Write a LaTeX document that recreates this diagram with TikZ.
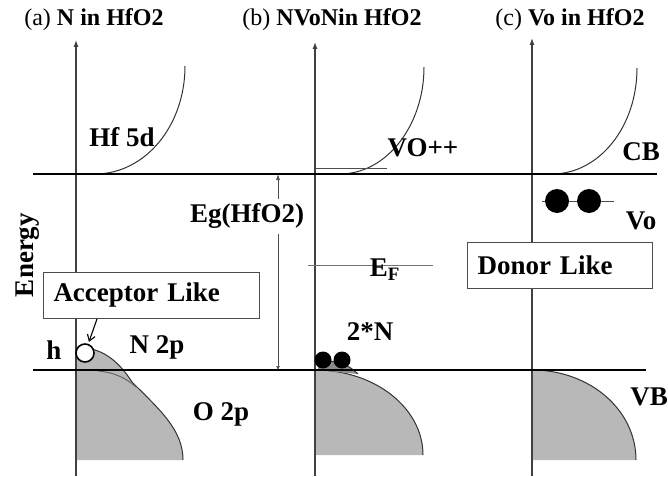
\documentclass[tikz,border=0pt]{standalone}
\usepackage{fontspec}
\setmainfont{Liberation Serif}
\usetikzlibrary{arrows.meta}
\begin{document}
\begin{tikzpicture}[x=1pt,y=-1pt,
  axisline/.style={draw=black!75, line width=1.1pt, -{Latex[length=7pt,width=5pt]}},
  bandedge/.style={draw=black, line width=2.2pt},
  dos/.style={draw=black!80, line width=1pt},
  lbl/.style={font=\fontsize{27}{29}\selectfont\bfseries, inner sep=0pt},
  ttl/.style={font=\fontsize{24}{26}\selectfont, inner sep=0pt},
  statebox/.style={draw=black!70, line width=1pt, fill=white, font=\fontsize{27}{29}\selectfont\bfseries, minimum height=46pt, inner sep=10pt, align=left, anchor=west},
  thinline/.style={draw=black!70, line width=0.7pt},
  electron/.style={circle, fill=black, inner sep=0pt}
]
\useasboundingbox (0,0) rectangle (668,476);

% titles
\node[ttl] (ta) at (94,20) {(a) \textbf{N in HfO2}};
\node[ttl] (tb) at (332,20) {(b) \textbf{NVoNin HfO2}};
\node[ttl] (tc) at (570,20) {(c) \textbf{Vo in HfO2}};

% shaded valence band densities
\fill[black!28] (76,460) -- (76,348) .. controls (100,346) and (118,360) .. (132,382)
   .. controls (160,410) and (183,430) .. (183,460) -- cycle;
\draw[dos] (76,348) .. controls (100,346) and (118,360) .. (132,382)
   .. controls (160,410) and (183,430) .. (183,460);
\draw[dos, draw=black!60] (98,371) .. controls (112,372) and (125,377) .. (136,387);

\fill[black!28] (315,455) -- (315,370) .. controls (375,370) and (423,408) .. (423,455) -- cycle;
\draw[dos] (315,370) .. controls (375,370) and (423,408) .. (423,455);
\fill[black!45] (318,370) -- (318,362) .. controls (335,359) and (348,364) .. (358,374) -- cycle;
\draw[dos] (318,362) .. controls (335,359) and (348,364) .. (358,374);

\fill[black!28] (532,460) -- (532,370) .. controls (590,370) and (636,410) .. (636,460) -- cycle;
\draw[dos] (532,370) .. controls (590,370) and (636,410) .. (636,460);

% axes
\coordinate (abot) at (76,476); \coordinate (atop) at (76,40);
\coordinate (bbot) at (315,476); \coordinate (btop) at (315,42);
\coordinate (cbot) at (532,476); \coordinate (ctop) at (532,38);
\draw[axisline] (abot) -- (atop);
\draw[axisline] (bbot) -- (btop);
\draw[axisline] (cbot) -- (ctop);

% conduction band densities
\draw[dos] (95,174) .. controls (145,174) and (185,126) .. (185,66);
\draw[dos] (340,174) .. controls (386,174) and (424,126) .. (424,67);
\draw[dos] (552,174) .. controls (599,174) and (637,127) .. (637,68);

% band edges
\coordinate (cbl) at (33,174); \coordinate (cbr) at (657,174);
\coordinate (vbl) at (33,370); \coordinate (vbr) at (646,370);
\draw[bandedge] (cbl) -- (cbr);
\draw[bandedge] (vbl) -- (vbr);

% VO++ level and Fermi level
\coordinate (vol1) at (315,168); \coordinate (vol2) at (387,168);
\draw[thinline] (vol1) -- (vol2);
\coordinate (ef1) at (308,265); \coordinate (ef2) at (433,265);
\draw[thinline, draw=black!55] (ef1) -- (ef2);

% band gap arrow
\node[lbl] (eg) at (247,216) {Eg(HfO2)};
\coordinate (egtop) at (278,174); \coordinate (egbot) at (278,370);
\draw[thinline, -{Latex[length=6pt,width=4pt]}, shorten <=4pt] (egtop |- eg.north) -- (egtop);
\draw[thinline, -{Latex[length=4pt,width=4pt]}, shorten <=5pt] (egtop |- eg.south) -- (egbot);

% boxes
\node[statebox, minimum width=216pt, text width=196pt] (acc) at (43,295.5) {Acceptor Like};
\node[statebox, minimum width=185pt, text width=165pt] (don) at (467,265) {Donor Like};

% hole
\node[circle, draw, line width=1.6pt, fill=white, minimum size=18pt, inner sep=0pt] (hole) at (85,353) {};
\coordinate (hstart) at (97,319);
\draw[line width=1.1pt, -{Straight Barb[length=6pt,width=8pt]}, shorten >=2pt] (hstart) -- (hole);

% electrons
\node[electron, minimum size=17pt] (n1) at (323,360) {};
\node[electron, minimum size=17pt] (n2) at (342,360) {};
\coordinate (vo1) at (542,201); \coordinate (vo2) at (614,201);
\draw[thinline] (vo1) -- (vo2);
\node[electron, minimum size=24pt] (v1) at (557,201) {};
\node[electron, minimum size=24pt] (v2) at (589,201) {};

% labels
\node[lbl, rotate=90] (energy) at (28,255) {Energy};
\node[lbl] (hf) at (122,137) {Hf 5d};
\node[lbl] (vopp) at (423,148) {VO++};
\node[lbl] (cb) at (641,152) {CB};
\node[lbl] (vo) at (641,221) {Vo};
\node[lbl] (vb) at (649,397) {VB};
\node[lbl] (ef) at (385,270) {E\textsubscript{F}};
\node[lbl] (twon) at (370,332) {2*N};
\node[lbl] (n2p) at (157,347) {N 2p};
\node[lbl] (o2p) at (221,414) {O 2p};
\node[lbl] (h) at (54,350) {h};
\end{tikzpicture}
\end{document}
